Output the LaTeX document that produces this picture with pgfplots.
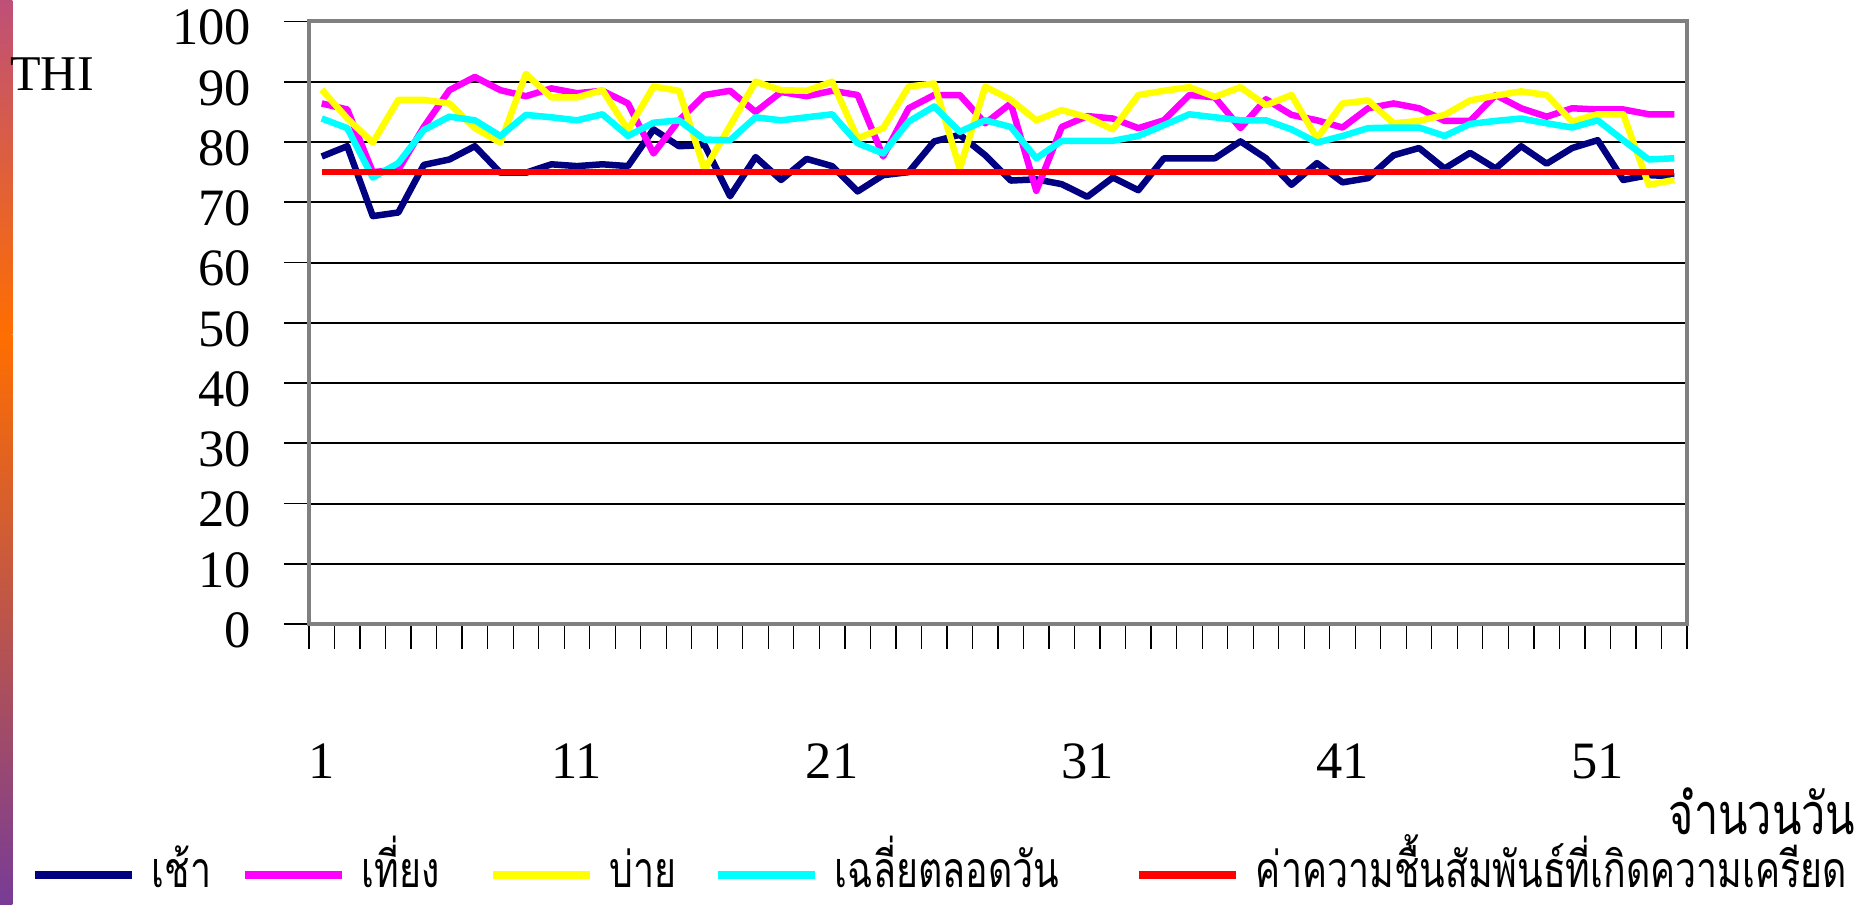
\documentclass[border=0pt]{standalone}
\usepackage{pgfplots}
\pgfplotsset{compat=1.18}
\usepackage{pgfplotstable}
\usepackage{fontspec}
\setmainfont{Liberation Serif}
\newfontfamily\thaifont[Script=Thai, FakeStretch=0.75]{Loma}
\definecolor{cNavy}{RGB}{0,0,128}
\definecolor{cMag}{RGB}{255,0,255}
\definecolor{cYel}{RGB}{255,255,0}
\definecolor{cCyan}{RGB}{0,255,255}
\definecolor{cRed}{RGB}{255,0,0}
\definecolor{frameGray}{RGB}{128,128,128}
\definecolor{stripTop}{RGB}{190,80,120}
\definecolor{stripMid}{RGB}{255,110,0}
\definecolor{stripBot}{RGB}{120,60,150}

\pgfplotstableread{
day morning noon afternoon mean stress
1 77.6 86.4 88.7 83.9 75
2 79.3 85.4 83.9 82.3 75
3 67.7 75.0 79.9 74.1 75
4 68.3 75.4 87.0 76.5 75
5 76.2 82.5 87.0 82.0 75
6 77.1 88.6 86.4 84.2 75
7 79.3 90.8 82.3 83.6 75
8 74.9 88.6 79.9 81.0 75
9 74.9 87.6 91.3 84.5 75
10 76.3 88.9 87.4 84.1 75
11 76.0 88.1 87.4 83.6 75
12 76.3 88.5 88.6 84.6 75
13 76.0 86.4 82.0 81.0 75
14 82.1 78.1 89.2 83.2 75
15 79.3 83.6 88.5 83.6 75
16 79.5 87.8 75.4 80.4 75
17 71.0 88.5 82.7 80.3 75
18 77.5 85.0 90.0 84.1 75
19 73.7 88.3 88.6 83.6 75
20 77.2 87.6 88.5 84.1 75
21 76.0 88.5 90.0 84.6 75
22 71.8 87.8 80.6 79.8 75
23 74.5 77.6 82.3 78.1 75
24 75.0 85.6 89.2 83.4 75
25 80.1 87.8 89.7 85.9 75
26 81.2 87.8 75.6 81.7 75
27 77.8 83.1 89.2 83.6 75
28 73.6 86.4 87.0 82.5 75
29 73.8 71.9 83.6 77.3 75
30 73.0 82.5 85.3 80.2 75
31 70.9 84.3 84.1 80.2 75
32 74.1 83.9 82.1 80.2 75
33 72.0 82.3 87.8 81.0 75
34 77.3 83.6 88.5 82.8 75
35 77.3 87.8 89.1 84.6 75
36 77.3 87.4 87.5 84.1 75
37 80.1 82.3 89.1 83.6 75
38 77.3 87.1 86.1 83.6 75
39 72.9 84.5 87.8 82.1 75
40 76.5 83.6 80.6 79.9 75
41 73.3 82.4 86.4 81.0 75
42 74.0 85.6 86.9 82.3 75
43 77.8 86.4 83.1 82.4 75
44 79.0 85.6 83.5 82.4 75
45 75.6 83.5 84.5 81.0 75
46 78.2 83.5 86.9 83.0 75
47 75.6 87.8 87.7 83.5 75
48 79.3 85.6 88.4 83.9 75
49 76.4 84.2 87.8 83.1 75
50 79.0 85.6 83.4 82.4 75
51 80.3 85.4 84.6 83.6 75
52 73.7 85.4 84.6 80.3 75
53 74.5 84.6 72.9 77.1 75
54 74.3 84.6 73.7 77.3 75
}\thidata

\begin{document}
\begin{tikzpicture}
\useasboundingbox (-123.6pt,-112pt) rectangle (624.8pt,249.6pt);
\shade[top color=stripTop, bottom color=stripMid] (-123.6pt,115.6pt) rectangle (-118.6pt,249.6pt);
\shade[top color=stripMid, bottom color=stripBot] (-123.6pt,-112pt) rectangle (-118.6pt,115.6pt);
\begin{axis}[
  scale only axis,
  width=551.2pt, height=241pt,
  xmin=0.5, xmax=54.5, ymin=0, ymax=100,
  axis line style={draw=frameGray, line width=1.6pt},
  xtick={1,11,21,31,41,51},
  minor xtick={0.5,1.5,...,54.5},
  ytick={0,10,...,100},
  tick pos=left,
  tick align=outside,
  major x tick style={draw=none},
  x tick style={black, line width=0.5pt},
  y tick style={black, line width=0.7pt},
  major tick length=10pt,
  minor tick length=10pt,
  ymajorgrids,
  grid style={black, line width=0.8pt},
  /pgf/number format/assume math mode=true,
  tick label style={font=\fontsize{21}{25}\selectfont},
  xticklabel style={anchor=center, yshift=-45pt},
  yticklabel style={anchor=east, xshift=-9.6pt, yshift=-2.5pt},
  ylabel={THI},
  ylabel style={rotate=-90, at={(axis description cs:-0.1865,0.913)}, anchor=center, font=\fontsize{20}{24}\selectfont},
  xlabel={\thaifont จำนวนวัน},
  xlabel style={at={(axis description cs:1.0544,-0.3104)}, anchor=center, font=\fontsize{23}{27}\selectfont},
  legend columns=5,
  legend cell align=left,
  legend image code/.code={\draw[#1, line width=3.3pt] (0pt,0pt) -- (38.8pt,0pt);},
  legend style={at={(axis description cs:-0.2025,-0.4162)}, anchor=west, draw=none, fill=none,
    inner sep=0pt, font=\thaifont\fontsize{20}{24}\selectfont,
    nodes={inner sep=0pt, text height=14pt, text depth=4pt},
    /tikz/every odd column/.append style={column sep=6.5pt}},
  every axis plot/.append style={line width=2.6pt, line join=round},
]
\addplot[cNavy] table[x=day, y=morning] {\thidata};
\addlegendentry{\makebox[35.4pt][l]{เช้า}}
\addplot[cMag] table[x=day, y=noon] {\thidata};
\addlegendentry{\makebox[50.6pt][l]{เที่ยง}}
\addplot[cYel] table[x=day, y=afternoon] {\thidata};
\addlegendentry{\makebox[41.4pt][l]{บ่าย}}
\addplot[cCyan] table[x=day, y=mean] {\thidata};
\addlegendentry{\makebox[119.8pt][l]{เฉลี่ยตลอดวัน}}
\addplot[cRed] table[x=day, y=stress] {\thidata};
\addlegendentry{ค่าความชื้นสัมพันธ์ที่เกิดความเครียด}
\end{axis}
\end{tikzpicture}
\end{document}
